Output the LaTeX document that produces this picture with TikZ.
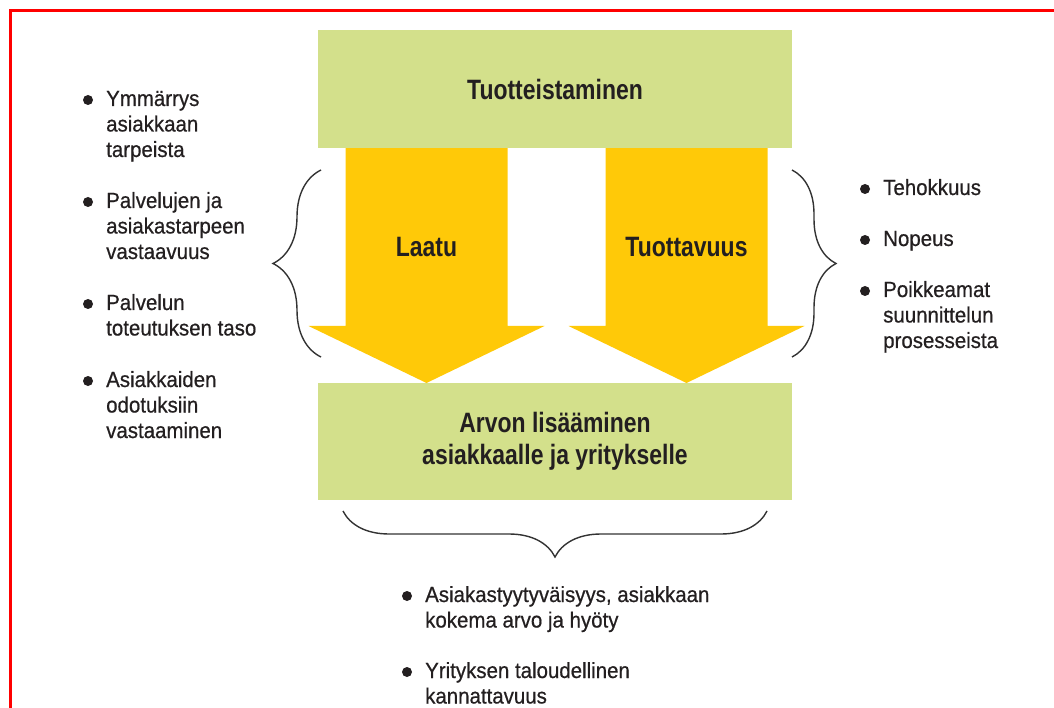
\documentclass[tikz,border=0pt]{standalone}
\usepackage{fontspec}
\setmainfont{Liberation Sans}[FakeStretch=0.93,FakeBold=0.6]
\newfontfamily\headfont{Liberation Sans}[FakeStretch=0.82]
\usetikzlibrary{decorations.pathreplacing}

\definecolor{boxgreen}{RGB}{211,224,139}
\definecolor{arrowyellow}{RGB}{255,201,8}
\definecolor{textdark}{RGB}{35,31,32}

\newcommand{\itemlines}[1]{\begin{tabular}[t]{@{}l@{}}#1\end{tabular}}

\tikzset{
  greenbox/.style={fill=boxgreen, minimum width=474pt, minimum height=118pt, inner sep=0pt,
    align=center, text=textdark, font={\headfont\bfseries\fontsize{28}{32}\selectfont}},
  arrowlabel/.style={text=textdark, font={\headfont\bfseries\fontsize{28}{32}\selectfont}},
  itemtext/.style={anchor=base west, inner sep=0pt, text=textdark,
    font={\fontsize{22}{25.5}\selectfont}},
  curly/.style={decorate, decoration={brace, amplitude=#1}, draw=black!80, line width=1.4pt},
}

\begin{document}
\begin{tikzpicture}[x=1pt,y=-1pt]
\useasboundingbox (0,0) rectangle (1054,708);
\draw[red, line width=3.5pt] (10.5,712) -- (10.5,10.5) -- (1058,10.5);
% arrows between the boxes
\foreach \cx in {426.5,686.5}
  \fill[arrowyellow] (\cx-81,140) -- (\cx+81,140) -- (\cx+81,326) -- (\cx+118,326)
    -- (\cx,383) -- (\cx-118,326) -- (\cx-81,326) -- cycle;
\node[greenbox] (tuote) at (555,89) {Tuotteistaminen};
\node[greenbox, minimum height=117pt] (arvo) at (555,441.5) {Arvon lisääminen\\asiakkaalle ja yritykselle};
\node[arrowlabel] (laatu) at (426.5,247) {Laatu};
\node[arrowlabel] (tuotto) at (686.5,247) {Tuottavuus};
% braces
\coordinate (lb1) at (321,357); \coordinate (lb2) at (321,170);
\coordinate (rb1) at (792,170); \coordinate (rb2) at (792,357);
\coordinate (bb1) at (767,511); \coordinate (bb2) at (343,511);
\draw[curly=48pt] (lb1) -- (lb2);
\draw[curly=44pt] (rb1) -- (rb2);
\draw[curly=46pt] (bb1) -- (bb2);
% bullet lists
\foreach \n/\x/\y/\t in {
  ymm/106/106/{Ymmärrys\\asiakkaan\\tarpeista},
  pal/106/208/{Palvelujen ja\\asiakastarpeen\\vastaavuus},
  tot/106/310/{Palvelun\\toteutuksen taso},
  odo/106/387/{Asiakkaiden\\odotuksiin\\vastaaminen},
  teh/883/195/{Tehokkuus},
  nop/883/246/{Nopeus},
  poi/883/297/{Poikkeamat\\suunnittelun\\prosesseista},
  tyy/425/602/{Asiakastyytyväisyys, asiakkaan\\kokema arvo ja hyöty},
  kan/425/678/{Yrityksen taloudellinen\\kannattavuus}}
{
  \node[itemtext] (\n) at (\x,\y) {\itemlines{\t}};
  \fill[textdark] ([shift={(-18,-6)}]\n.base west) circle (5pt);
}
\end{tikzpicture}
\end{document}
